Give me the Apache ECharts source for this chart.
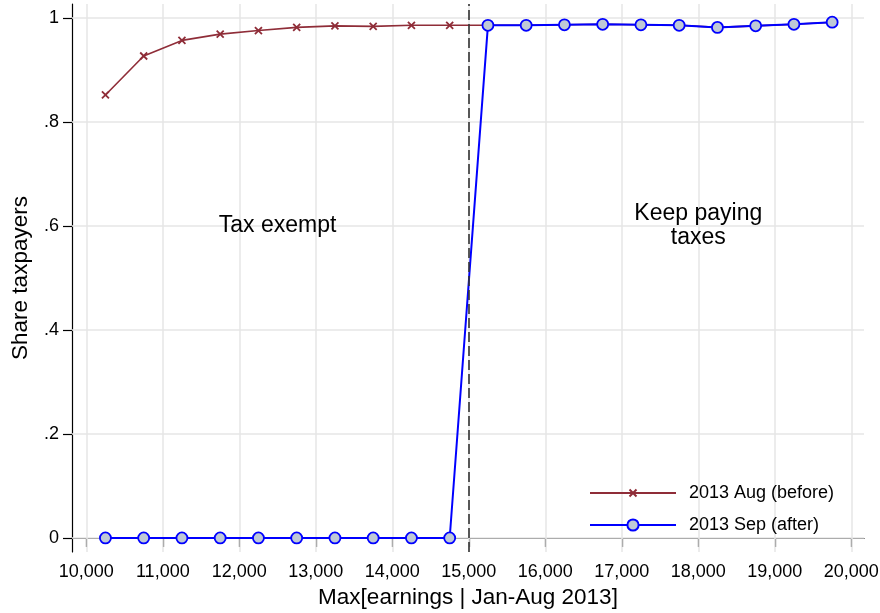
<!DOCTYPE html>
<html><head><meta charset="utf-8">
<script src="https://cdn.jsdelivr.net/npm/echarts@6/dist/echarts.min.js"></script>
<style>html,body{margin:0;padding:0;background:#fff}#c{width:880px;height:613px}</style>
</head><body><div id="c"></div>
<script>
var xBins = [10250,10750,11250,11750,12250,12750,13250,13750,14250,14750,15250,15750,16250,16750,17250,17750,18250,18750,19250,19750];
var augBefore = [0.852,0.927,0.957,0.969,0.976,0.982,0.985,0.984,0.986,0.986,0.986,0.986,0.987,0.988,0.987,0.986,0.982,0.985,0.988,0.992];
var sepAfter = [0,0,0,0,0,0,0,0,0,0,0.986,0.986,0.987,0.988,0.987,0.986,0.982,0.985,0.988,0.992];
var xTicks = [10000,11000,12000,13000,14000,15000,16000,17000,18000,19000,20000];
var yTicks = [0,0.2,0.4,0.6,0.8,1];
var threshold = 15000;
var notes = [{x:12500,y:0.6,text:'Tax exempt'},{x:18000,y:0.6,text:'Keep paying\ntaxes'}];

var red = '#8f2d38', blue = '#0000ff', gridC = '#e6e6e6';
var font = 'Liberation Sans, Arial, sans-serif';
var chart = echarts.init(document.getElementById('c'));
var gridLines = [];
xTicks.forEach(function(v){ gridLines.push({xAxis:v}); });
yTicks.forEach(function(v){ gridLines.push({yAxis:v}); });
function yFmt(v){ if (v===0) return '0'; if (v===1) return '1'; return String(+v.toFixed(1)).replace('0.','.'); }
chart.setOption({
  animation:false,
  textStyle:{fontFamily:font},
  grid:{left:72,right:16,top:4,bottom:61,containLabel:false,outerBoundsMode:'none'},
  xAxis:{type:'value',min:9813,max:20166,
    name:'Max[earnings | Jan-Aug 2013]',nameLocation:'middle',nameGap:33,
    nameTextStyle:{fontSize:22.5,color:'#000',fontFamily:font},
    axisLine:{show:true,lineStyle:{color:'#000',width:1.2}},
    axisTick:{show:true,customValues:xTicks,length:9,lineStyle:{color:'#000',width:1.2}},
    axisLabel:{show:true,customValues:xTicks,fontSize:18,color:'#000',margin:11,fontFamily:font,
      formatter:function(v){return v.toLocaleString('en-US');}},
    splitLine:{show:false}},
  yAxis:{type:'value',min:-0.027,max:1.027,
    name:'Share taxpayers',nameLocation:'middle',nameGap:40,
    nameTextStyle:{fontSize:22.5,color:'#000',fontFamily:font},
    axisLine:{show:true,lineStyle:{color:'#000',width:1.2}},
    axisTick:{show:true,customValues:yTicks,length:9,lineStyle:{color:'#000',width:1.2}},
    axisLabel:{show:true,customValues:yTicks,fontSize:18,color:'#000',margin:13,fontFamily:font,formatter:yFmt},
    splitLine:{show:false}},
  legend:{left:589,top:484,orient:'vertical',itemWidth:86,itemHeight:14,itemGap:14,padding:0,
    textStyle:{fontSize:18,color:'#000',fontFamily:font,padding:[0,0,0,8]},
    data:[{name:'2013 Aug (before)',icon:'path://M0,0M86,14M0,7L86,7M39.5,3.5L46.5,10.5M46.5,3.5L39.5,10.5'},
          {name:'2013 Sep (after)'}]},
  series:[
    {type:'line',name:'_grid',data:[],z:1,silent:true,
      markLine:{silent:true,z:1,symbol:'none',label:{show:false},
        lineStyle:{color:gridC,width:1.5,type:'solid'},data:gridLines}},
    {type:'line',name:'_thr',data:[],z:5,silent:true,
      markLine:{silent:true,z:5,symbol:'none',label:{show:false},
        lineStyle:{color:'#333',width:1.6,type:[10,4]},data:[{xAxis:threshold}]},
      markPoint:{symbol:'circle',symbolSize:0,
        label:{show:true,color:'#000',fontSize:23,fontFamily:font,lineHeight:24,
          formatter:function(p){return p.name;}},
        data:notes.map(function(n){return {name:n.text,coord:[n.x,n.y]};})}},
    {type:'line',name:'2013 Aug (before)',z:3,
      data:xBins.map(function(x,i){return [x,augBefore[i]];}),
      symbol:'path://M0,0L10,10M10,0L0,10',symbolSize:7,showAllSymbol:true,
      lineStyle:{color:red,width:1.6},
      itemStyle:{color:red,borderColor:red,borderWidth:1.8}},
    {type:'line',name:'2013 Sep (after)',z:4,
      data:xBins.map(function(x,i){return [x,sepAfter[i]];}),
      symbol:'circle',symbolSize:11,showAllSymbol:true,
      lineStyle:{color:blue,width:2},
      itemStyle:{color:'#bfc9d6',borderColor:blue,borderWidth:1.8}}
  ]
});
</script></body></html>
